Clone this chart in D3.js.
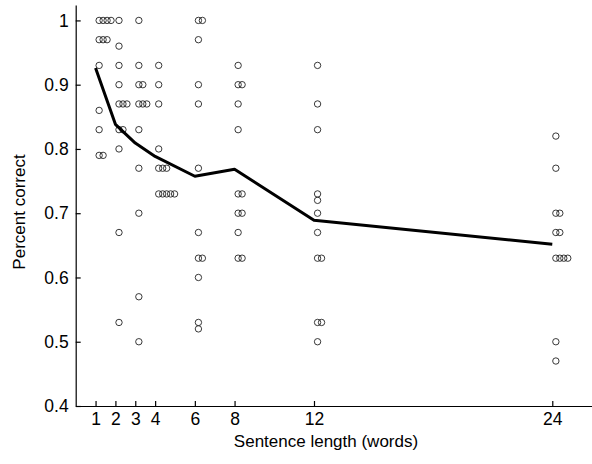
<!DOCTYPE html>
<html>
<head>
<meta charset="utf-8">
<script src="https://cdn.jsdelivr.net/npm/d3@7"></script>
<style>
  body { margin: 0; background: #fff; }
  svg text { font-family: "Liberation Sans", Arial, sans-serif; fill: #000; }
</style>
</head>
<body>
<div id="chart"></div>
<script>
// sentence lengths (words) and scores per length
const lengths = [1, 2, 3, 4, 6, 8, 12, 24];
const len1 = [1, 1, 1, 1, 0.97, 0.97, 0.97, 0.93, 0.86, 0.83, 0.79, 0.79];
const len2 = [1, 0.96, 0.93, 0.90, 0.87, 0.87, 0.87, 0.83, 0.83, 0.80, 0.67, 0.53];
const len3 = [1, 0.93, 0.90, 0.90, 0.87, 0.87, 0.87, 0.83, 0.77, 0.70, 0.57, 0.50];
const len4 = [0.93, 0.90, 0.87, 0.80, 0.77, 0.77, 0.77, 0.73, 0.73, 0.73, 0.73, 0.73];
const len6 = [1, 1, 0.97, 0.90, 0.87, 0.77, 0.67, 0.63, 0.63, 0.60, 0.53, 0.52];
const len8 = [0.93, 0.90, 0.90, 0.87, 0.83, 0.73, 0.73, 0.70, 0.70, 0.67, 0.63, 0.63];
const len12 = [0.93, 0.87, 0.83, 0.73, 0.72, 0.70, 0.67, 0.63, 0.63, 0.53, 0.53, 0.50];
const len24 = [0.82, 0.77, 0.70, 0.70, 0.67, 0.67, 0.63, 0.63, 0.63, 0.63, 0.50, 0.47];
const scores = [len1, len2, len3, len4, len6, len8, len12, len24];

const xTicks = [1, 2, 3, 4, 6, 8, 12, 24];
const yTicks = [0.4, 0.5, 0.6, 0.7, 0.8, 0.9, 1];

var width = 592, height = 464;

var x = d3.scaleLinear().domain([0, 26]).range([75.7, 592]);
var y = d3.scaleLinear().domain([0.4, 1.024]).range([406, 5]);

var svg = d3.select("#chart").append("svg")
    .attr("width", width)
    .attr("height", height);

// points: identical scores at the same length are nudged to the right
var pts = [];
lengths.forEach(function (L, i) {
    var seen = {};
    scores[i].forEach(function (v) {
        var k = seen[v] || 0;
        seen[v] = k + 1;
        pts.push({len: L, v: v, off: 0.18 + 0.2 * k});
    });
});

svg.selectAll(".dot")
    .data(pts)
    .enter()
    .append("circle")
    .attr("class", "dot")
    .attr("cx", function (d) { return x(d.len + d.off); })
    .attr("cy", function (d) { return y(d.v); })
    .attr("r", 3.2)
    .style("fill", "none")
    .style("stroke", "#222")
    .style("stroke-width", 0.9);

// mean line
var means = lengths.map(function (L, i) { return {len: L, m: d3.mean(scores[i])}; });

svg.append("path")
    .datum(means)
    .attr("d", d3.line().x(function (d) { return x(d.len); }).y(function (d) { return y(d.m); }))
    .style("fill", "none")
    .style("stroke", "#000")
    .style("stroke-width", 3)
    .style("stroke-linejoin", "round");

// axes, ticks pointing inward
var xAxis = d3.axisBottom(x).tickValues(xTicks).tickSizeInner(-5).tickSizeOuter(0).tickPadding(7);
var yAxis = d3.axisLeft(y).tickValues(yTicks).tickSizeInner(-5).tickSizeOuter(0).tickPadding(7)
    .tickFormat(function (d) { return String(d); });

var gx = svg.append("g")
    .attr("transform", "translate(0," + y(0.4) + ")")
    .call(xAxis);
var gy = svg.append("g")
    .attr("transform", "translate(" + x(0) + ",0)")
    .call(yAxis);

[gx, gy].forEach(function (g) {
    g.selectAll("path, line").style("stroke", "#000").style("stroke-width", 1.2);
    g.selectAll("text").style("font-size", "17.5px").style("fill", "#000");
});

svg.append("text")
    .attr("x", 326)
    .attr("y", 447)
    .style("text-anchor", "middle")
    .style("font-size", "17px")
    .text("Sentence length (words)");

svg.append("text")
    .attr("transform", "translate(25,212) rotate(-90)")
    .style("text-anchor", "middle")
    .style("font-size", "17px")
    .text("Percent correct");
</script>
</body>
</html>
